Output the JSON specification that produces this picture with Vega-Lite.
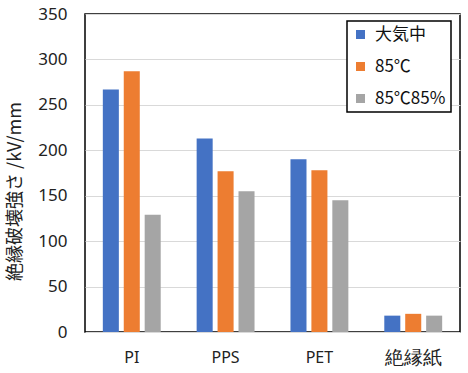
{
  "$schema": "https://vega.github.io/schema/vega-lite/v6.json",
  "width": 375,
  "height": 318,
  "autosize": {"type": "none"},
  "padding": {"left": 85, "top": 14, "right": 8, "bottom": 41},
  "background": "white",
  "config": {
    "view": {"stroke": "black", "strokeWidth": 1.5},
    "font": "Noto Sans CJK JP"
  },
  "data": {
    "values": [
      {"material": "PI", "condition": "大気中", "value": 267},
      {"material": "PI", "condition": "85℃", "value": 287},
      {"material": "PI", "condition": "85℃85%", "value": 129},
      {"material": "PPS", "condition": "大気中", "value": 213},
      {"material": "PPS", "condition": "85℃", "value": 177},
      {"material": "PPS", "condition": "85℃85%", "value": 155},
      {"material": "PET", "condition": "大気中", "value": 190},
      {"material": "PET", "condition": "85℃", "value": 178},
      {"material": "PET", "condition": "85℃85%", "value": 145},
      {"material": "絶縁紙", "condition": "大気中", "value": 18},
      {"material": "絶縁紙", "condition": "85℃", "value": 20},
      {"material": "絶縁紙", "condition": "85℃85%", "value": 18}
    ]
  },
  "mark": {"type": "bar"},
  "encoding": {
    "x": {
      "field": "material",
      "type": "nominal",
      "sort": ["PI", "PPS", "PET", "絶縁紙"],
      "scale": {"paddingInner": 0.383, "paddingOuter": 0.19},
      "axis": {
        "title": null,
        "labelAngle": 0,
        "ticks": false,
        "tickSize": 0,
        "domain": false,
        "labelPadding": 25,
        "labelBaseline": "middle",
        "labelFont": "Noto Sans",
        "labelFontSize": {"condition": {"test": "datum.value === '絶縁紙'", "value": 19}, "value": 16},
        "labelColor": "#222"
      }
    },
    "xOffset": {
      "field": "condition",
      "type": "nominal",
      "sort": ["大気中", "85℃", "85℃85%"],
      "scale": {"paddingInner": 0.234, "paddingOuter": 0}
    },
    "y": {
      "field": "value",
      "type": "quantitative",
      "scale": {"domain": [0, 350], "nice": false},
      "axis": {
        "title": "絶縁破壊強さ /kV/mm",
        "values": [0, 50, 100, 150, 200, 250, 300, 350],
        "ticks": false,
        "tickSize": 0,
        "domain": false,
        "labelPadding": 18,
        "labelFont": "Noto Sans",
        "labelFontSize": 17,
        "labelColor": "#222",
        "gridColor": "#d9d9d9",
        "gridWidth": 1,
        "titleFont": "Noto Sans CJK JP",
        "titleFontSize": 18,
        "titleFontWeight": "normal",
        "titleColor": "#222",
        "titleAngle": -90,
        "titleX": -61,
        "titleY": 177,
        "titleBaseline": "bottom",
        "titleAlign": "center"
      }
    },
    "color": {
      "field": "condition",
      "type": "nominal",
      "sort": ["大気中", "85℃", "85℃85%"],
      "scale": {"domain": ["大気中", "85℃", "85℃85%"], "range": ["#4472C4", "#ED7D31", "#A5A5A5"]},
      "legend": {
        "title": null,
        "orient": "none",
        "legendX": 262,
        "legendY": 7,
        "symbolType": "square",
        "symbolSize": 81,
        "symbolStrokeWidth": 0,
        "labelFont": "Noto Sans CJK JP",
        "labelFontSize": 17,
        "labelColor": "#111",
        "labelOffset": 6,
        "rowPadding": 14,
        "padding": 5,
        "strokeColor": "black",
        "fillColor": "white",
        "encode": {"legend": {"update": {"strokeWidth": {"value": 1.5}}}}
      }
    }
  }
}
